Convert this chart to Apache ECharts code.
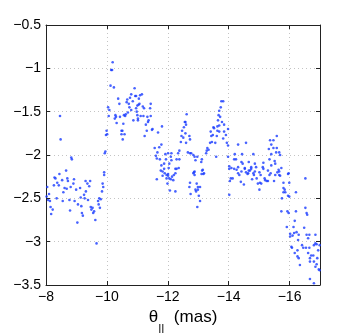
<!DOCTYPE html>
<html>
<head>
<meta charset="utf-8">
<script src="https://cdn.jsdelivr.net/npm/echarts@6/dist/echarts.min.js"></script>
<style>
  html, body { margin: 0; padding: 0; background: #fff; }
  #chart { width: 354px; height: 333px; }
</style>
</head>
<body>
<div id="chart"></div>
<script>
// theta_par (mas) vs value
const seg8to10 = [
  [-8.04,-2.37],[-8.02,-2.48],[-8.07,-2.52],[-8.13,-2.53],[-8.15,-2.60],[-8.22,-2.63],[-8.17,-2.68],
  [-8.28,-2.26],[-8.31,-2.27],[-8.44,-2.22],[-8.37,-2.32],[-8.42,-2.35],[-8.26,-2.35],[-8.35,-2.50],
  [-8.53,-2.29],[-8.55,-2.53],[-8.57,-2.43],[-8.61,-2.38],[-8.66,-2.18],[-8.70,-2.27],[-8.72,-2.30],
  [-8.68,-2.39],[-8.77,-2.52],[-8.79,-2.64],[-8.81,-2.37],[-8.90,-2.33],[-8.92,-2.28],[-8.94,-2.53],
  [-8.99,-2.40],[-9.05,-2.57],[-9.03,-2.78],[-9.12,-2.38],[-9.14,-2.49],[-9.16,-2.59],[-9.18,-2.67],
  [-9.21,-2.70],[-9.25,-2.46],[-9.27,-2.50],[-9.31,-2.42],[-9.36,-2.33],[-9.38,-2.52],[-9.42,-2.36],
  [-9.45,-2.30],[-9.47,-2.60],[-9.49,-2.63],[-9.53,-2.61],[-9.55,-2.67],[-9.58,-2.65],[-9.62,-2.75],
  [-9.66,-3.02],[-9.71,-2.53],[-9.73,-2.57],[-9.75,-2.50],[-9.77,-2.61],[-9.80,-2.51],[-9.84,-2.42],
  [-9.86,-2.33],[-9.88,-2.37],[-9.91,-2.23],[-8.46,-1.55],[-8.48,-1.82],[-8.83,-2.03],[-8.85,-2.05],
  [-9.91,-2.20],[-9.95,-1.96],[-9.93,-1.98],[-8.10,-2.45],[-9.30,-2.30]
];
const seg10to11 = [
  [-9.97,-1.77],[-10.01,-1.76],[-9.99,-1.72],[-10.04,-1.45],[-10.08,-1.48],[-10.06,-1.55],[-10.12,-1.20],
  [-10.23,-1.22],[-10.14,-1.02],[-10.17,-1.02],[-10.19,-0.93],[-10.28,-1.54],[-10.30,-1.56],[-10.26,-1.58],
  [-10.32,-1.63],[-10.37,-1.35],[-10.41,-1.41],[-10.43,-1.56],[-10.48,-1.72],[-10.51,-1.72],[-10.48,-1.76],
  [-10.52,-1.82],[-10.58,-1.76],[-10.54,-1.64],[-10.56,-1.54],[-10.60,-1.55],[-10.62,-1.53],[-10.65,-1.39],
  [-10.67,-1.36],[-10.69,-1.51],[-10.72,-1.41],[-10.74,-1.45],[-10.76,-1.34],[-10.80,-1.30],[-10.80,-1.48],
  [-10.85,-1.38],[-10.87,-1.60],[-10.91,-1.23],[-10.93,-1.32],[-10.96,-1.46],[-10.98,-1.50],[-11.00,-1.54],
  [-11.02,-1.60],[-11.04,-1.42]
];
const seg11to12 = [
  [-10.96,-1.32],[-11.05,-1.35],[-11.09,-1.31],[-11.15,-1.30],[-11.07,-1.41],[-11.00,-1.43],[-11.18,-1.44],
  [-11.22,-1.46],[-11.02,-1.58],[-11.11,-1.55],[-11.20,-1.55],[-11.33,-1.56],[-11.37,-1.60],[-11.44,-1.41],
  [-11.42,-1.46],[-11.44,-1.55],[-11.28,-1.65],[-11.35,-1.62],[-11.31,-1.72],[-11.24,-1.78],[-11.48,-1.71],
  [-11.50,-1.70],[-11.57,-1.92],[-11.66,-1.97],[-11.72,-1.91],[-11.68,-1.74],[-11.79,-1.88],[-11.81,-1.67],
  [-11.61,-2.01],[-11.64,-2.04],[-11.74,-2.05],[-11.79,-2.12],[-11.77,-2.18],[-11.92,-1.99],[-11.88,-2.10],
  [-11.83,-2.19],[-11.88,-2.16],[-11.90,-2.21],[-11.64,-2.28],[-11.83,-2.24],[-11.96,-2.23],[-11.96,-2.27],
  [-11.99,-2.33]
];
const seg12to13 = [
  [-12.01,-1.98],[-11.94,-2.05],[-12.05,-2.10],[-12.12,-2.06],[-12.10,-2.02],[-12.12,-1.98],[-12.01,-2.22],
  [-12.25,-2.16],[-12.29,-2.05],[-12.34,-1.98],[-12.38,-1.95],[-12.43,-1.85],[-12.45,-1.78],[-12.47,-1.72],
  [-12.51,-1.80],[-12.53,-1.68],[-12.56,-1.62],[-12.58,-1.62],[-12.60,-1.65],[-12.62,-1.53],[-12.58,-1.75],
  [-12.60,-1.86],[-12.71,-1.78],[-12.73,-1.82],[-12.66,-1.97],[-12.73,-1.98],[-12.77,-1.98],[-12.84,-2.00],
  [-12.88,-2.02],[-12.91,-2.06],[-12.97,-2.02],[-12.86,-2.20],[-12.03,-2.15],[-12.38,-2.05],[-12.01,-2.24],
  [-12.05,-2.27],[-12.10,-2.28],[-12.18,-2.29],[-12.14,-2.25],[-12.20,-2.23],[-12.25,-2.21],[-12.29,-2.16],
  [-12.36,-2.15],[-12.07,-2.41],[-12.25,-2.42],[-12.73,-2.32],[-12.71,-2.37],[-12.75,-2.45],[-12.84,-2.21],
  [-12.88,-2.23],[-12.88,-2.19],[-12.91,-2.40],[-12.93,-2.42],[-12.95,-2.33],[-12.99,-2.37],[-12.99,-2.40]
];
const seg13to14 = [
  [-13.12,-2.05],[-13.10,-2.08],[-13.15,-2.17],[-13.19,-2.21],[-13.26,-1.98],[-13.28,-1.95],[-13.34,-1.94],
  [-13.30,-1.92],[-13.39,-1.86],[-13.45,-1.85],[-13.43,-1.78],[-13.41,-1.73],[-13.48,-1.77],[-13.50,-1.68],
  [-13.52,-1.69],[-13.56,-1.86],[-13.59,-2.02],[-13.61,-1.78],[-13.63,-1.72],[-13.63,-1.67],[-13.69,-1.66],
  [-13.69,-1.73],[-13.65,-1.60],[-13.67,-1.54],[-13.69,-1.49],[-13.72,-1.56],[-13.74,-1.45],[-13.76,-1.38],
  [-13.82,-1.38],[-13.78,-1.62],[-13.85,-1.65],[-13.85,-1.73],[-13.91,-1.77],[-13.94,-1.86],[-13.98,-1.89],
  [-13.82,-1.81],[-13.98,-1.70],[-13.06,-2.37],[-13.02,-2.47],[-13.06,-2.53],[-12.97,-2.60],[-13.13,-2.18],
  [-13.11,-2.22],[-13.17,-2.22],[-13.98,-2.02]
];
const seg14to15 = [
  [-14.02,-2.13],[-14.02,-2.16],[-14.04,-2.30],[-14.02,-2.46],[-14.31,-1.88],[-14.57,-1.86],[-14.20,-1.99],
  [-14.44,-1.99],[-14.81,-1.99],[-14.18,-2.05],[-14.24,-2.05],[-14.42,-2.08],[-14.46,-2.10],[-14.66,-2.08],
  [-14.86,-2.10],[-14.90,-2.14],[-14.74,-2.14],[-14.53,-2.15],[-14.31,-2.14],[-14.09,-2.15],[-14.26,-2.17],
  [-14.57,-2.20],[-14.64,-2.21],[-14.70,-2.18],[-14.81,-2.21],[-14.13,-2.27],[-14.07,-2.27],[-14.18,-2.16],
  [-14.31,-2.21],[-14.35,-2.23],[-14.40,-2.31],[-14.50,-2.34],[-14.42,-2.19],[-14.53,-2.16],[-14.62,-2.22],
  [-14.66,-2.18],[-14.74,-2.16],[-14.77,-2.28],[-14.83,-2.23],[-14.86,-2.19],[-14.92,-2.27],[-14.96,-2.33]
];
const seg15to16 = [
  [-15.01,-2.20],[-15.14,-2.09],[-15.12,-2.14],[-15.29,-2.18],[-15.58,-1.78],[-15.47,-1.83],[-15.36,-1.83],
  [-15.40,-1.88],[-15.47,-1.92],[-15.32,-1.93],[-15.58,-1.92],[-15.56,-1.97],[-15.66,-1.97],[-15.69,-2.00],
  [-15.40,-1.99],[-15.34,-2.05],[-15.51,-2.07],[-15.53,-2.10],[-15.40,-2.12],[-15.73,-2.15],[-15.66,-2.19],
  [-15.97,-2.21],[-15.03,-2.32],[-15.01,-2.40],[-15.07,-2.33],[-15.05,-2.23],[-15.14,-2.16],[-15.18,-2.27],
  [-15.20,-2.29],[-15.25,-2.30],[-15.29,-2.30],[-15.34,-2.23],[-15.38,-2.21],[-15.49,-2.30],[-15.53,-2.23],
  [-15.60,-2.20],[-15.64,-2.17],[-15.66,-2.23],[-15.69,-2.24],[-15.80,-2.32],[-15.80,-2.38],[-15.80,-2.43],
  [-15.84,-2.40],[-15.86,-2.43],[-15.95,-2.22],[-15.99,-2.32],[-15.95,-2.47],[-15.99,-2.48],[-15.75,-2.50],
  [-15.73,-2.65],[-15.93,-2.65],[-15.97,-2.67],[-15.91,-2.83]
];
const seg16to17 = [
  [-16.21,-2.43],[-16.52,-2.27],[-16.21,-2.65],[-16.52,-2.61],[-16.56,-2.67],[-16.58,-2.69],[-16.17,-2.76],
  [-16.13,-2.83],[-16.02,-2.91],[-16.02,-2.94],[-16.10,-2.93],[-16.15,-2.90],[-16.23,-2.89],[-16.30,-2.92],
  [-16.28,-2.98],[-16.48,-2.84],[-16.56,-2.92],[-16.61,-2.96],[-16.65,-2.92],[-16.06,-3.06],[-16.08,-3.07],
  [-16.17,-3.13],[-16.26,-3.10],[-16.26,-3.17],[-16.30,-3.19],[-16.34,-3.27],[-16.41,-3.04],[-16.45,-3.07],
  [-16.54,-3.07],[-16.61,-3.13],[-16.65,-3.07],[-16.67,-3.19],[-16.71,-3.16],[-16.78,-3.16],[-16.80,-3.04],
  [-16.85,-3.02],[-16.89,-3.03],[-16.85,-2.92],[-16.91,-3.19],[-16.80,-3.23],[-16.85,-3.29],[-16.89,-3.26],
  [-16.96,-3.32],[-16.99,-3.33],[-16.94,-3.10],[-16.67,-3.43],[-16.80,-3.48],[-16.67,-3.23],[-16.99,-3.04]
];

const xMin = -17, xMax = -8;
const yMin = -3.5, yMax = -0.5, yStep = 0.5;

const points = [].concat(seg8to10, seg10to11, seg11to12, seg12to13, seg13to14, seg14to15, seg15to16, seg16to17);

const fontFam = '"Liberation Sans", Arial, sans-serif';
const minus = v => String(v).replace('-', '\u2212');

const chart = echarts.init(document.getElementById('chart'), null, {renderer: 'canvas'});

const frameLine = {show: true, lineStyle: {color: '#222', width: 1}};
const gridDots = {show: true, lineStyle: {color: '#c4c4c4', type: [1, 3], width: 1}};

chart.setOption({
  animation: false,
  backgroundColor: '#fff',
  grid: {left: 46, right: 34, top: 25, bottom: 48, containLabel: false, outerBoundsMode: 'none'},
  xAxis: [
    {
      type: 'value', min: xMin, max: xMax, inverse: true, position: 'bottom',
      axisLine: frameLine,
      axisTick: {inside: true, length: 4, lineStyle: {color: '#222'}},
      splitLine: gridDots,
      axisLabel: {
        color: '#000', fontSize: 14, fontFamily: fontFam, margin: 5,
        formatter: v => (v === xMin ? '' : minus(v))
      },
      name: '{t|\u03b8}{s|||}{t|  (mas)}',
      nameLocation: 'middle',
      nameGap: 21,
      nameTextStyle: {
        color: '#000', fontFamily: fontFam,
        rich: {
          t: {fontSize: 17, fontFamily: fontFam, color: '#000', verticalAlign: 'top'},
          s: {fontSize: 12, fontFamily: fontFam, color: '#000', verticalAlign: 'top', padding: [15, 0, 0, 0]}
        }
      }
    },
    {
      type: 'value', min: xMin, max: xMax, inverse: true, position: 'top',
      axisLine: frameLine,
      axisTick: {inside: true, length: 4, lineStyle: {color: '#222'}},
      axisLabel: {show: false},
      splitLine: {show: false}
    }
  ],
  yAxis: [
    {
      type: 'value', min: yMin, max: yMax, interval: yStep, position: 'left',
      axisLine: frameLine,
      axisTick: {inside: true, length: 4, lineStyle: {color: '#222'}},
      splitLine: gridDots,
      axisLabel: {color: '#000', fontSize: 14, fontFamily: fontFam, margin: 5, formatter: minus}
    },
    {
      type: 'value', min: yMin, max: yMax, interval: yStep, position: 'right',
      axisLine: frameLine,
      axisTick: {inside: true, length: 4, lineStyle: {color: '#222'}},
      axisLabel: {show: false},
      splitLine: {show: false}
    }
  ],
  series: [{
    type: 'scatter',
    xAxisIndex: 0,
    yAxisIndex: 0,
    data: points,
    symbol: 'circle',
    symbolSize: 2.6,
    itemStyle: {color: '#1a3cff'}
  }]
});
</script>
</body>
</html>
